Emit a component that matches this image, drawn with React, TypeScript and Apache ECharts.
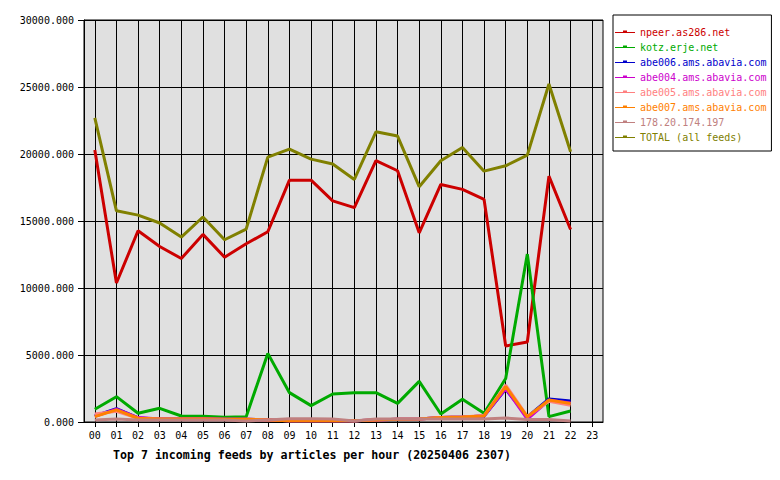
import React, { useEffect, useRef } from "react";
import * as echarts from "echarts";

const hours = ["00","01","02","03","04","05","06","07","08","09","10","11","12","13","14","15","16","17","18","19","20","21","22","23"];

const seriesNames = [
  "npeer.as286.net",
  "kotz.erje.net",
  "abe006.ams.abavia.com",
  "abe004.ams.abavia.com",
  "abe005.ams.abavia.com",
  "abe007.ams.abavia.com",
  "178.20.174.197",
  "TOTAL (all feeds)",
];
const seriesColors = ["#cc0000", "#00aa00", "#0000cc", "#cc00cc", "#ff8080", "#ff8000", "#c08080", "#808000"];

const npeer = [20290, 10370, 14270, 13100, 12200, 14000, 12300, 13300, 14200, 18050, 18050, 16500, 16000, 19500, 18750, 14120, 17730, 17360, 16610, 5670, 5970, 18350, 14370];
const kotz = [950, 1890, 650, 1020, 450, 430, 350, 400, 5120, 2190, 1220, 2090, 2190, 2190, 1390, 3030, 600, 1690, 650, 3250, 12530, 400, 820];
const abe006 = [450, 1000, 300, 230, 220, 230, 200, 200, 150, 100, 100, 120, 100, 150, 200, 220, 330, 380, 450, 2450, 380, 1720, 1560];
const abe004 = [420, 950, 330, 230, 220, 250, 200, 200, 150, 100, 100, 120, 100, 150, 200, 220, 330, 380, 450, 2500, 220, 1620, 1420];
const abe005 = [600, 800, 280, 230, 220, 230, 200, 200, 150, 100, 100, 120, 100, 150, 200, 220, 330, 380, 480, 2750, 420, 1550, 1250];
const abe007 = [400, 900, 280, 230, 220, 230, 200, 200, 150, 100, 100, 120, 100, 150, 200, 220, 330, 380, 450, 2640, 380, 1640, 1380];
const host178 = [150, 220, 150, 150, 150, 150, 150, 80, 150, 250, 250, 220, 80, 220, 220, 220, 220, 220, 220, 300, 180, 180, 80];
const total = [22700, 15760, 15440, 14850, 13800, 15300, 13600, 14400, 19770, 20370, 19620, 19250, 18100, 21660, 21340, 17560, 19500, 20490, 18720, 19120, 19920, 25220, 20170];

const seriesValues = [npeer, kotz, abe006, abe004, abe005, abe007, host178, total];

const yTicks = [0, 5000, 10000, 15000, 20000, 25000, 30000];

const titleText = "Top 7 incoming feeds by articles per hour (20250406 2307)";

const MONO = "'DejaVu Sans Mono', monospace";
const LEGEND_ICON =
  "path://M0,0h0.01v0.01h-0.01Z M19.99,9.99h0.01v0.01h-0.01Z M0,5H20V6H0Z M8,3.5H12V6H8Z";

export default function App() {
  const ref = useRef<HTMLDivElement>(null);
  useEffect(() => {
    if (!ref.current) return;
    const chart = echarts.init(ref.current, undefined, { renderer: "svg" });
    chart.setOption({
      animation: false,
      backgroundColor: "#ffffff",
      title: {
        text: titleText,
        left: 108,
        top: 444,
        textStyle: { fontFamily: MONO, fontWeight: "bold", fontSize: 11.6, color: "#000" },
      },
      legend: {
        orient: "vertical",
        left: 613,
        top: 15,
        padding: [12, 5, 9, 2],
        itemWidth: 20,
        itemHeight: 10,
        itemGap: 5,
        borderColor: "#000",
        borderWidth: 1,
        icon: LEGEND_ICON,
        itemStyle: { borderWidth: 0 },
        textStyle: { fontFamily: MONO, fontSize: 10 },
        data: seriesNames.map((n, i) => ({
          name: n,
          itemStyle: { color: seriesColors[i], borderWidth: 0 },
          textStyle: { color: seriesColors[i] },
        })),
      },
      grid: {
        left: 84,
        right: 177,
        top: 20,
        bottom: 58,
        show: true,
        backgroundColor: "#e0e0e0",
        borderColor: "#000",
        borderWidth: 1,
      },
      xAxis: {
        type: "category",
        data: hours,
        boundaryGap: true,
        axisLine: { show: true, lineStyle: { color: "#000", width: 1 } },
        axisTick: { show: true, alignWithLabel: true, length: 5, lineStyle: { color: "#000" } },
        axisLabel: { fontFamily: MONO, fontSize: 10, color: "#000", margin: 8 },
        splitLine: { show: true, alignWithLabel: true, lineStyle: { color: "#000", width: 1 } },
      },
      yAxis: {
        type: "value",
        min: yTicks[0],
        max: yTicks[yTicks.length - 1],
        interval: 5000,
        axisLine: { show: true, lineStyle: { color: "#000", width: 1 } },
        axisTick: { show: true, length: 6, lineStyle: { color: "#000" } },
        axisLabel: {
          fontFamily: MONO,
          fontSize: 10,
          color: "#000",
          margin: 10,
          formatter: (v: number) => v.toFixed(3),
        },
        splitLine: { show: true, lineStyle: { color: "#000", width: 1 } },
      },
      series: seriesNames.map((n, i) => ({
        name: n,
        type: "line",
        data: seriesValues[i],
        symbol: "none",
        showSymbol: false,
        color: seriesColors[i],
        lineStyle: { color: seriesColors[i], width: 3 },
        itemStyle: { color: seriesColors[i] },
      })),
    });
    return () => chart.dispose();
  }, []);
  return (
    <div
      ref={ref}
      style={{ position: "absolute", left: 0, top: 0, width: 780, height: 480 }}
    />
  );
}
